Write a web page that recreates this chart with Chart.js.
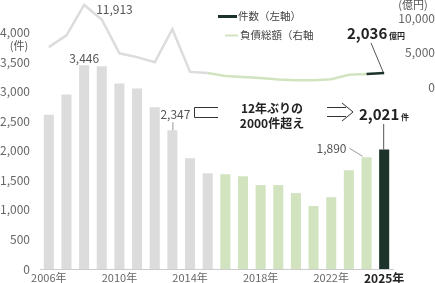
<!DOCTYPE html>
<html>
<head>
<meta charset="utf-8">
<script src="https://cdn.jsdelivr.net/npm/chart.js@4"></script>
<style>
  html, body { margin: 0; padding: 0; background: #fff; }
  #wrap { width: 435px; height: 283px; }
</style>
</head>
<body>
<div id="wrap"><canvas id="chart" width="435" height="283"></canvas></div>
<script>
// data
const years = ['2006年','2007年','2008年','2009年','2010年','2011年','2012年','2013年','2014年','2015年',
               '2016年','2017年','2018年','2019年','2020年','2021年','2022年','2023年','2024年','2025年'];
const cases = [2610, 2950, 3446, 3430, 3140, 3055, 2735, 2347, 1875, 1620,
               1605, 1570, 1420, 1420, 1285, 1065, 1215, 1670, 1890, 2021];
const debt = [5800, 7500, 11913, 9800, 4900, 4350, 3600, 8400, 2200, 2050,
              1600, 1450, 1300, 1100, 1000, 1000, 1150, 1800, 1900, 2036];
const shownYears = ['2006年', '2010年', '2014年', '2018年', '2022年', '2025年'];
const leftTicks = [0, 500, 1000, 1500, 2000, 2500, 3000, 3500, 4000];
const rightTicks = [0, 5000, 10000];

const FONT = "'Noto Sans CJK JP', 'Noto Sans', sans-serif";
const GREY = '#dcdcdc';
const GREEN = '#d2e3c0';
const DARK = '#1b3328';

const barColor = (i) => i < 10 ? GREY : (i < 19 ? GREEN : DARK);
const fmt = (v) => v.toLocaleString('en-US');

// Annotations
const notes = {
    id: 'notes',
    afterDraw(chart) {
        const { ctx } = chart;
        const { x, y, y2 } = chart.scales;
        ctx.save();
        ctx.fillStyle = '#555';
        ctx.textBaseline = 'middle';

        // axis units
        ctx.font = '11px ' + FONT;
        ctx.textAlign = 'center';
        ctx.fillText('(件)', 19, 46);
        ctx.fillText('(億円)', 413, 5);

        // peak of debt
        ctx.font = '12px ' + FONT;
        ctx.textAlign = 'left';
        ctx.fillText(fmt(debt[2]), x.getPixelForValue(2) + 12, y2.getPixelForValue(debt[2]) + 4);

        // 3,446
        ctx.textAlign = 'center';
        ctx.fillText(fmt(cases[2]), x.getPixelForValue(2), y.getPixelForValue(cases[2]) - 7);

        // 2,347
        const x13 = x.getPixelForValue(7);
        const y13 = y.getPixelForValue(cases[7]);
        ctx.fillText(fmt(cases[7]), x13 + 3, y13 - 16);
        ctx.strokeStyle = '#999';
        ctx.lineWidth = 1;
        ctx.beginPath();
        ctx.moveTo(x13 + 0.5, y13 - 8);
        ctx.lineTo(x13 + 0.5, y13);
        ctx.stroke();

        // 1,890
        const x24 = x.getPixelForValue(18);
        const y24 = y.getPixelForValue(cases[18]);
        ctx.fillText(fmt(cases[18]), x24 - 35, y24 - 9);
        ctx.beginPath();
        ctx.moveTo(x24 - 17, y24 - 9);
        ctx.lineTo(x24 - 4, y24 - 1);
        ctx.stroke();

        // bracket
        ctx.strokeStyle = '#333';
        ctx.beginPath();
        ctx.moveTo(218, 107.5);
        ctx.lineTo(194.5, 107.5);
        ctx.lineTo(194.5, 117.5);
        ctx.lineTo(218, 117.5);
        ctx.stroke();

        // middle text
        ctx.fillStyle = '#222';
        ctx.font = 'bold 12px ' + FONT;
        ctx.fillText('12年ぶりの', 272, 108);
        ctx.fillText('2000件超え', 272, 123);

        // outline arrow
        ctx.strokeStyle = '#333';
        ctx.beginPath();
        ctx.moveTo(327, 107.5);
        ctx.lineTo(346, 107.5);
        ctx.moveTo(327, 116.5);
        ctx.lineTo(346, 116.5);
        ctx.moveTo(342, 103);
        ctx.lineTo(353, 112);
        ctx.lineTo(342, 121);
        ctx.stroke();

        // 2,021件
        const x25 = x.getPixelForValue(19);
        const y25 = y.getPixelForValue(cases[19]);
        ctx.textAlign = 'left';
        ctx.font = 'bold 15px ' + FONT;
        ctx.fillText(fmt(cases[19]), 359, 114);
        ctx.font = 'bold 8px ' + FONT;
        ctx.fillText('件', 401, 117);
        ctx.strokeStyle = '#555';
        ctx.beginPath();
        ctx.moveTo(x25 - 0.5, 124);
        ctx.lineTo(x25 - 0.5, y25);
        ctx.stroke();

        // 2,036億円
        const yd = y2.getPixelForValue(debt[19]);
        ctx.font = 'bold 15px ' + FONT;
        ctx.fillText(fmt(debt[19]), 347, 33);
        ctx.font = 'bold 8px ' + FONT;
        ctx.fillText('億円', 389, 36);
        ctx.strokeStyle = '#555';
        ctx.beginPath();
        ctx.moveTo(371, 43);
        ctx.lineTo(x25 - 1, yd - 1);
        ctx.stroke();

        // legend
        ctx.lineWidth = 3;
        ctx.strokeStyle = DARK;
        ctx.beginPath();
        ctx.moveTo(218, 16.5);
        ctx.lineTo(237, 16.5);
        ctx.stroke();
        ctx.lineWidth = 2;
        ctx.strokeStyle = GREEN;
        ctx.beginPath();
        ctx.moveTo(225, 35.5);
        ctx.lineTo(238, 35.5);
        ctx.stroke();
        ctx.fillStyle = '#444';
        ctx.font = '10.5px ' + FONT;
        ctx.fillText('件数（左軸）', 238, 16);
        ctx.fillText('負債総額（右軸', 240, 35);
        ctx.restore();
    }
};

// y axes: keep tick label overflow from shrinking the plot area
const noPad = (w) => (s) => { s.width = w; s.paddingTop = 0; s.paddingBottom = 0; };

new Chart(document.getElementById('chart'), {
    data: {
        labels: years,
        datasets: [{
            type: 'line',
            data: debt,
            yAxisID: 'y2',
            order: 0,
            borderWidth: 2.5,
            pointRadius: 0,
            tension: 0,
            borderColor: GREY,
            segment: {
                borderColor: (c) => c.p0DataIndex >= 18 ? DARK : (c.p0DataIndex >= 9 ? GREEN : GREY)
            }
        }, {
            type: 'bar',
            data: cases,
            yAxisID: 'y',
            order: 1,
            backgroundColor: cases.map((v, i) => barColor(i)),
            categoryPercentage: 1,
            barPercentage: 0.57
        }]
    },
    options: {
        responsive: false,
        animation: false,
        events: [],
        layout: { padding: { top: 3, left: 0, right: 0, bottom: 0 } },
        plugins: { legend: { display: false }, tooltip: { enabled: false } },
        scales: {
            x: {
                grid: { display: false, drawTicks: false },
                border: { display: true, color: '#cccccc' },
                afterFit: (s) => { s.height = 14; },
                ticks: {
                    autoSkip: false,
                    maxRotation: 0,
                    padding: 2,
                    color: (c) => c.index === 19 ? '#222' : '#666',
                    font: (c) => ({ family: FONT, size: c.index === 19 ? 12 : 11, weight: c.index === 19 ? 'bold' : 'normal' }),
                    callback: (v, i) => shownYears.includes(years[i]) ? years[i] : ''
                }
            },
            y: {
                position: 'left',
                min: 0,
                max: 4500,
                grid: { display: false, drawTicks: false },
                border: { display: false },
                afterFit: noPad(40),
                afterBuildTicks: (s) => { s.ticks = leftTicks.map(v => ({ value: v })); },
                ticks: {
                    padding: 10,
                    color: '#666',
                    font: { family: FONT, size: 12 },
                    callback: (v) => fmt(v)
                }
            },
            y2: {
                position: 'right',
                min: -26400,
                max: 12200,
                grid: { display: false, drawTicks: false },
                border: { display: false },
                afterFit: noPad(42),
                afterBuildTicks: (s) => { s.ticks = rightTicks.map(v => ({ value: v })); },
                ticks: {
                    crossAlign: 'far',
                    padding: 0,
                    color: '#666',
                    font: { family: FONT, size: 12 },
                    callback: (v) => fmt(v)
                }
            }
        }
    },
    plugins: [notes]
});
</script>
</body>
</html>
